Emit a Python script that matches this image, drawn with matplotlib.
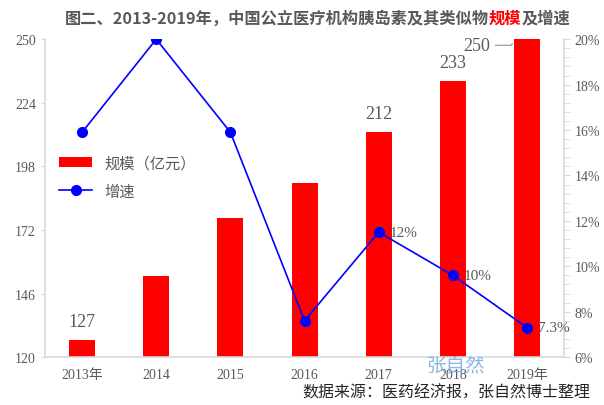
import matplotlib
matplotlib.use("Agg")
import matplotlib.pyplot as plt
from matplotlib.ticker import MultipleLocator, FuncFormatter

# --- Data ---
years = ["2013年", "2014", "2015", "2016", "2017", "2018", "2019年"]
scale = [127, 153, 177, 191, 212, 233, 250]          # 规模 (亿元)
growth = [15.9, 20.0, 15.9, 7.6, 11.5, 9.6, 7.3]     # 增速 (%)
bar_labels = {0: "127", 4: "212", 5: "233", 6: "250"}
growth_labels = {4: "12%", 5: "10%", 6: "7.3%"}

CJK = "Noto Sans CJK SC"
SERIF = ["Liberation Serif", CJK]
GRAY = "#595959"
AXIS = "#d9d9d9"

plt.rcParams["font.family"] = SERIF

fig = plt.figure(figsize=(6.04, 4.06), dpi=100)
ax = fig.add_axes([0.0745, 0.118, 0.8595, 0.783])
x = list(range(len(years)))

bars = ax.bar(x, scale, width=0.35, color="#ff0000", zorder=2, label="规模（亿元）")
ax.set_ylim(120, 250)
ax.set_xlim(-0.5, len(years) - 0.5)
ax.set_yticks([120, 146, 172, 198, 224, 250])
ax.set_xticks(x)
ax.set_xticklabels(years)
ax.tick_params(axis="both", colors=GRAY, labelsize=10, length=3, color=AXIS)
ax.tick_params(axis="x", length=0, pad=8)
for s in ["top", "right"]:
    ax.spines[s].set_visible(False)
for s in ["left", "bottom"]:
    ax.spines[s].set_color(AXIS)
    ax.spines[s].set_linewidth(1.2)

for i, txt in bar_labels.items():
    if i == len(years) - 1:
        ax.annotate(txt, xy=(i - 0.17, scale[i] - 1), xytext=(i - 0.5, scale[i] - 2.5),
                    ha="right", va="center", fontsize=13, color=GRAY,
                    arrowprops=dict(arrowstyle="-", color="#a6a6a6", lw=1,
                                    connectionstyle="angle,angleA=0,angleB=45,rad=0"))
    else:
        ax.text(i, scale[i] + 4, txt, ha="center", va="bottom", fontsize=13, color=GRAY)

ax2 = ax.twinx()
ax2.plot(x, growth, color="#0000ff", lw=1.2, marker="o", markersize=7, label="增速", zorder=3)
ax2.set_ylim(6, 20)
ax2.yaxis.set_major_locator(MultipleLocator(2))
ax2.yaxis.set_minor_locator(MultipleLocator(0.4))
ax2.yaxis.set_major_formatter(FuncFormatter(lambda v, p: f"{v:.0f}%"))
ax2.tick_params(axis="y", which="both", colors=GRAY, color=AXIS, labelsize=10, length=4)
for s in ["top", "left", "bottom"]:
    ax2.spines[s].set_visible(False)
ax2.spines["right"].set_color(AXIS)
ax2.spines["right"].set_linewidth(1.2)

for i, txt in growth_labels.items():
    ax2.annotate(txt, xy=(i, growth[i]), xytext=(8, 0), textcoords="offset points",
                 ha="left", va="center", fontsize=11, color=GRAY)

h1, l1 = ax.get_legend_handles_labels()
h2, l2 = ax2.get_legend_handles_labels()
leg = ax2.legend(h1 + h2, l1 + l2, loc="upper left", bbox_to_anchor=(0.0, 0.68),
                 frameon=False, handlelength=2.2, handleheight=0.6,
                 labelspacing=0.7, prop={"family": [CJK], "size": 11})
for t in leg.get_texts():
    t.set_color(GRAY)

# title in three pieces, "规模" highlighted in red
t1 = fig.text(0.107, 0.955, "图二、2013-2019年，中国公立医疗机构胰岛素及其类似物",
              fontsize=11.7, fontweight="bold", color=GRAY, family=[CJK], va="center")
t2 = ax.annotate("规模", xy=(1, 0), xycoords=t1, fontsize=11.7, fontweight="bold",
                 color="#ff0000", family=[CJK], va="bottom", ha="left")
ax.annotate("及增速", xy=(1, 0), xycoords=t2, fontsize=11.7, fontweight="bold",
            color=GRAY, family=[CJK], va="bottom", ha="left")

fig.text(0.705, 0.098, "张自然", fontsize=14, color="#6fa8dc", alpha=0.8,
         family=[CJK], va="center")
fig.text(0.978, 0.033, "数据来源：医药经济报，张自然博士整理", fontsize=11.5,
         color="#262626", family=[CJK], ha="right", va="center")

fig.savefig("out.png", dpi=100)
